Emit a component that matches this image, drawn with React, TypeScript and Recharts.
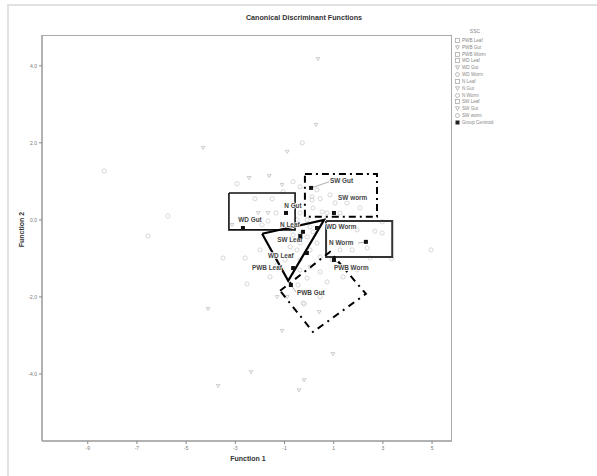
import React from 'react';
import { ScatterChart, Scatter, XAxis, YAxis } from 'recharts';

const xTicks = [-9, -7, -5, -3, -1, 1, 3, 5];
const yTicks = [-4, -2, 0, 2, 4];

const circlePoints = [
  { x: -0.28, y: 2.0 }, { x: -8.33, y: 1.27 }, { x: -5.74, y: 0.1 }, { x: -6.55, y: -0.42 },
  { x: 4.96, y: -0.78 }, { x: -0.2, y: -2.18 }, { x: 0.45, y: -2.0 },
  { x: -2.93, y: 0.94 }, { x: -2.2, y: 0.55 }, { x: -1.5, y: 0.55 }, { x: -1.06, y: 0.73 },
  { x: -1.35, y: 0.18 }, { x: -3.5, y: -0.99 }, { x: -2.6, y: -0.99 }, { x: -1.99, y: -0.78 },
  { x: -2.52, y: -1.66 }, { x: -0.45, y: -1.69 }, { x: -0.08, y: -1.51 }, { x: 0.45, y: -1.35 },
  { x: 0.73, y: -1.61 }, { x: 1.38, y: -1.48 }, { x: 1.95, y: -1.3 }, { x: 2.48, y: -0.99 },
  { x: 2.97, y: -0.34 }, { x: 2.68, y: -0.29 }, { x: 1.95, y: -0.26 }, { x: 2.36, y: -0.73 },
  { x: 1.75, y: -0.78 }, { x: 1.26, y: -0.78 }, { x: 2.97, y: -0.05 }, { x: 2.07, y: 0.31 },
  { x: 1.54, y: 0.44 }, { x: 1.06, y: 0.44 }, { x: 0.85, y: 0.65 }, { x: 0.45, y: 0.55 },
  { x: 0.12, y: 0.52 }, { x: 0.16, y: 0.31 }, { x: 0.53, y: 0.21 }, { x: 0.73, y: 0.18 },
  { x: 1.26, y: 0.18 }, { x: 0.32, y: 0.78 }, { x: 0.12, y: 0.6 }, { x: -0.37, y: 0.18 },
  { x: -0.49, y: 0.0 }, { x: -0.08, y: 0.0 }, { x: 0.04, y: -0.18 }, { x: -0.37, y: -0.39 },
  { x: -0.65, y: -0.39 }, { x: -0.08, y: -0.44 }, { x: 0.16, y: -0.31 }, { x: -0.37, y: -0.6 },
  { x: 0.32, y: -0.6 }, { x: 0.04, y: -0.78 }, { x: -0.49, y: -0.78 }, { x: -0.77, y: -0.7 },
  { x: 0.45, y: -0.96 }, { x: -0.37, y: -1.04 }, { x: -0.98, y: -1.04 }, { x: -1.3, y: -1.17 },
  { x: 0.04, y: -1.22 }, { x: -1.59, y: -1.48 }, { x: -0.37, y: -1.3 }, { x: 0.93, y: -1.04 },
  { x: -0.65, y: 0.99 }, { x: -0.37, y: 0.86 }, { x: -1.67, y: -0.03 }, { x: -1.91, y: -0.13 },
  { x: -0.24, y: -2.16 }, { x: 3.35, y: -1.0 },
];

const trianglePoints = [
  { x: 0.36, y: 4.18 }, { x: 0.28, y: 2.47 }, { x: -0.89, y: 1.77 }, { x: -4.31, y: 1.87 },
  { x: -4.11, y: -2.31 }, { x: -1.3, y: -2.0 }, { x: 0.41, y: -2.39 }, { x: -1.1, y: -2.88 },
  { x: 0.97, y: -3.48 }, { x: -2.36, y: -3.95 }, { x: -0.2, y: -4.16 }, { x: -3.7, y: -4.31 },
  { x: -0.41, y: -4.42 }, { x: -1.62, y: 1.14 }, { x: -2.44, y: 1.09 }, { x: -2.07, y: 0.18 },
  { x: -1.67, y: 0.18 }, { x: -3.13, y: -0.13 }, { x: -1.1, y: 0.91 }, { x: -0.89, y: -2.0 },
];

const centroids = [
  { name: 'PWB Leaf', x: -0.65, y: -1.25 },
  { name: 'PWB Gut', x: -0.74, y: -1.69 },
  { name: 'PWB Worm', x: 1.01, y: -1.04 },
  { name: 'WD Leaf', x: -0.09, y: -0.86 },
  { name: 'WD Gut', x: -2.69, y: -0.21 },
  { name: 'WD Worm', x: 0.32, y: -0.21 },
  { name: 'N Leaf', x: -0.36, y: -0.42 },
  { name: 'N Gut', x: -0.94, y: 0.18 },
  { name: 'N Worm', x: 2.31, y: -0.57 },
  { name: 'SW Leaf', x: -0.25, y: -0.31 },
  { name: 'SW Gut', x: 0.08, y: 0.83 },
  { name: 'SW worm', x: 1.01, y: 0.18 },
];

const labels = [
  { name: 'PWB Leaf', x: -2.32, y: -1.25 },
  { name: 'WD Leaf', x: -1.67, y: -0.94 },
  { name: 'SW Leaf', x: -1.3, y: -0.52 },
  { name: 'WD Gut', x: -2.88, y: 0.0 },
  { name: 'N Gut', x: -1.01, y: 0.34 },
  { name: 'N Leaf', x: -1.18, y: -0.13 },
  { name: 'SW Gut', x: 0.85, y: 0.99 },
  { name: 'SW worm', x: 1.18, y: 0.55 },
  { name: 'WD Worm', x: 0.69, y: -0.18 },
  { name: 'N Worm', x: 0.81, y: -0.6 },
  { name: 'PWB Worm', x: 1.01, y: -1.25 },
  { name: 'PWB Gut', x: -0.49, y: -1.9 },
];

const leaders = [
  [{ x: 0.08, y: 0.83 }, { x: 0.82, y: 0.99 }],
  [{ x: 2.31, y: -0.57 }, { x: 2.0, y: -0.6 }],
  [{ x: 1.01, y: -1.04 }, { x: 1.35, y: -1.2 }],
  [{ x: -0.74, y: -1.69 }, { x: -0.52, y: -1.88 }],
];

const wdGutBox = [
  { x: -3.26, y: 0.7 }, { x: -0.57, y: 0.7 }, { x: -0.57, y: -0.26 }, { x: -3.26, y: -0.26 }, { x: -3.26, y: 0.7 },
];
const swBox = [
  { x: -0.17, y: 1.19 }, { x: 2.76, y: 1.19 }, { x: 2.76, y: 0.08 }, { x: -0.17, y: 0.08 }, { x: -0.17, y: 1.19 },
];
const nWormBox = [
  { x: 0.69, y: -0.03 }, { x: 3.38, y: -0.03 }, { x: 3.38, y: -0.96 }, { x: 0.69, y: -0.96 }, { x: 0.69, y: -0.03 },
];
const leafTriangle = [
  { x: -1.91, y: -0.36 }, { x: 0.61, y: 0.0 }, { x: -0.85, y: -1.58 }, { x: -1.91, y: -0.36 },
];
const pwbDiamond = [
  { x: -1.18, y: -1.84 }, { x: 0.85, y: -0.83 }, { x: 2.31, y: -1.92 }, { x: 0.16, y: -2.91 }, { x: -1.18, y: -1.84 },
];

const legendItems = [
  { name: 'PWB Leaf', mark: 'square' },
  { name: 'PWB Gut', mark: 'tri' },
  { name: 'PWB Worm', mark: 'square' },
  { name: 'WD Leaf', mark: 'square' },
  { name: 'WD Gut', mark: 'tri' },
  { name: 'WD Worm', mark: 'circle' },
  { name: 'N Leaf', mark: 'square' },
  { name: 'N Gut', mark: 'tri' },
  { name: 'N Worm', mark: 'circle' },
  { name: 'SW Leaf', mark: 'square' },
  { name: 'SW Gut', mark: 'tri' },
  { name: 'SW worm', mark: 'circle' },
  { name: 'Group Centroid', mark: 'centroid' },
];

const FONT = '"Liberation Sans", Arial, sans-serif';
const noShape = () => <g />;

const CircleShape = (p: any) => (
  <circle cx={p.cx} cy={p.cy} r={2.1} fill="none" stroke="#cdcdcd" strokeWidth={0.8} />
);
const TriShape = (p: any) => (
  <path
    d={`M${p.cx - 1.9},${p.cy - 1.4} L${p.cx + 1.9},${p.cy - 1.4} L${p.cx},${p.cy + 1.8} Z`}
    fill="none"
    stroke="#c2c2c2"
    strokeWidth={0.8}
  />
);
const CentroidShape = (p: any) => (
  <rect x={p.cx - 2} y={p.cy - 2} width={4} height={4} fill="#111" />
);
const LabelShape = (p: any) => (
  <text
    x={p.cx}
    y={p.cy}
    dominantBaseline="middle"
    textAnchor="start"
    fontFamily={FONT}
    fontWeight="bold"
    fontSize={6.4}
    fill="#444"
    stroke="#fff"
    strokeWidth={1.4}
    paintOrder="stroke"
  >
    {p.payload.name}
  </text>
);

const LegendIcon = ({ mark }: { mark: string }) => (
  <svg width={5} height={5} style={{ marginRight: 2, flex: 'none' }}>
    {mark === 'square' && <rect x={0.5} y={0.5} width={4} height={4} fill="none" stroke="#aaa" strokeWidth={0.8} />}
    {mark === 'circle' && <circle cx={2.5} cy={2.5} r={2} fill="none" stroke="#aaa" strokeWidth={0.8} />}
    {mark === 'tri' && <path d="M0.5,0.8 L4.5,0.8 L2.5,4.5 Z" fill="none" stroke="#aaa" strokeWidth={0.8} />}
    {mark === 'centroid' && <rect x={0.5} y={0.5} width={4} height={4} fill="#222" />}
  </svg>
);

export default function App() {
  const lineStyle = (dash?: string, color = '#000', w = 2) => ({
    stroke: color,
    strokeWidth: w,
    strokeDasharray: dash,
    fill: 'none',
  });
  return (
    <div style={{ position: 'absolute', left: 0, top: 0, width: 597, height: 476, background: '#fff', overflow: 'hidden', fontFamily: FONT }}>
      <div style={{ position: 'absolute', left: 7, top: 4, width: 620, height: 500, borderLeft: '2px solid #e2e2e2', borderTop: '2px solid #e2e2e2' }} />
      <div style={{ position: 'absolute', left: 0, width: 608, top: 13, textAlign: 'center', fontSize: 7.2, fontWeight: 'bold', color: '#333' }}>
        Canonical Discriminant Functions
      </div>
      <ScatterChart width={597} height={476} margin={{ top: 35, right: 145, bottom: 0, left: 0 }} style={{ position: 'absolute', left: 0, top: 0 }}>
        <XAxis
          type="number"
          dataKey="x"
          domain={[-10.86, 5.81]}
          ticks={xTicks}
          allowDataOverflow
          height={35}
          tickSize={3}
          axisLine={{ stroke: '#999', strokeWidth: 1.5 }}
          tickLine={{ stroke: '#888' }}
          tick={{ fontSize: 5, fill: '#777', fontFamily: FONT }}
        />
        <YAxis
          type="number"
          dataKey="y"
          domain={[-5.74, 4.8]}
          ticks={yTicks}
          allowDataOverflow
          width={42}
          tickSize={3}
          tickFormatter={(v: number) => v.toFixed(1)}
          axisLine={{ stroke: '#999', strokeWidth: 1.5 }}
          tickLine={{ stroke: '#888' }}
          tick={{ fontSize: 5, fill: '#777', fontFamily: FONT }}
        />
        <Scatter data={circlePoints} shape={CircleShape} isAnimationActive={false} />
        <Scatter data={trianglePoints} shape={TriShape} isAnimationActive={false} />
        {leaders.map((l, i) => (
          <Scatter key={'ld' + i} data={l} line={lineStyle(undefined, '#777', 0.6)} lineType="joint" shape={noShape} isAnimationActive={false} />
        ))}
        <Scatter data={wdGutBox} line={lineStyle(undefined, '#111', 1.6)} lineType="joint" shape={noShape} isAnimationActive={false} />
        <Scatter data={swBox} line={lineStyle('7 4 2 4', '#000', 2)} lineType="joint" shape={noShape} isAnimationActive={false} />
        <Scatter data={nWormBox} line={lineStyle(undefined, '#333', 2)} lineType="joint" shape={noShape} isAnimationActive={false} />
        <Scatter data={pwbDiamond} line={lineStyle('7 5 2 5', '#000', 2)} lineType="joint" shape={noShape} isAnimationActive={false} />
        <Scatter data={leafTriangle} line={lineStyle(undefined, '#000', 2.2)} lineType="joint" shape={noShape} isAnimationActive={false} />
        <Scatter data={labels} shape={LabelShape} isAnimationActive={false} />
        <Scatter data={centroids} shape={CentroidShape} isAnimationActive={false} />
      </ScatterChart>
      <div style={{ position: 'absolute', left: 42, top: 35, width: 410, height: 406, borderTop: '1px solid #aaa', borderRight: '1.5px solid #aaa', boxSizing: 'border-box', pointerEvents: 'none' }} />
      <div style={{ position: 'absolute', left: 208, width: 80, top: 455, textAlign: 'center', fontSize: 7, fontWeight: 'bold', color: '#333' }}>
        Function 1
      </div>
      <div style={{ position: 'absolute', left: 21, top: 231, width: 0, height: 0 }}>
        <div style={{ position: 'absolute', left: -40, top: -5, width: 80, textAlign: 'center', fontSize: 7, fontWeight: 'bold', color: '#333', transform: 'rotate(-90deg)' }}>
          Function 2
        </div>
      </div>
      <div style={{ position: 'absolute', left: 455, top: 28, width: 60 }}>
        <div style={{ textAlign: 'center', fontSize: 5, color: '#888', height: 9, lineHeight: '6px', width: 40 }}>SSC</div>
        {legendItems.map((it) => (
          <div key={it.name} style={{ display: 'flex', alignItems: 'center', height: 6.83, fontSize: 4.6, color: '#888', whiteSpace: 'nowrap' }}>
            <LegendIcon mark={it.mark} />
            <span>{it.name}</span>
          </div>
        ))}
      </div>
    </div>
  );
}
